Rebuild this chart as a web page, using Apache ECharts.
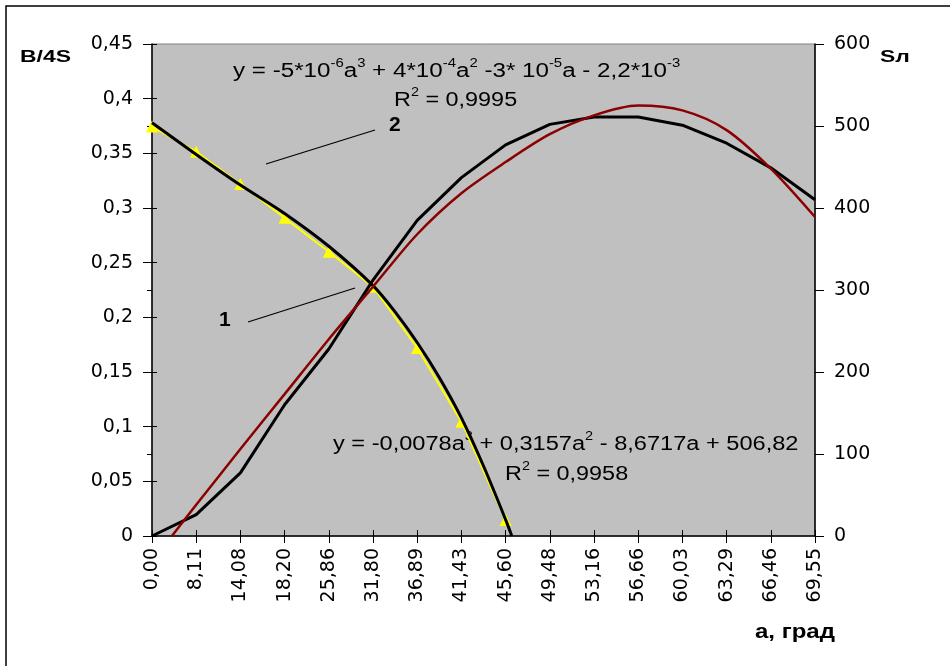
<!DOCTYPE html>
<html>
<head>
<meta charset="utf-8">
<script src="https://cdn.jsdelivr.net/npm/echarts@6/dist/echarts.min.js"></script>
<style>
html,body{margin:0;padding:0;background:#fff;}
#chart{width:950px;height:666px;}
</style>
</head>
<body>
<div id="chart"></div>
<script>
// Category tick labels (a, град)
var categories = ['0,00','8,11','14,08','18,20','25,86','31,80','36,89','41,43','45,60','49,48','53,16','56,66','60,03','63,29','66,46','69,55'];

// Curve 1: Sл (right axis), measured values at each category
var slValues = [0, 26, 77, 160, 228, 312, 385, 437, 477, 502, 511, 511, 501, 479, 449, 410];

// Trend of Sл (polynomial): [category position, value]
var slTrendX = [0.45, 1, 2, 3, 4, 5, 6, 7, 8, 9, 10, 11, 12, 13, 14, 15];
var slTrendY = [0, 38, 106, 173, 240, 304, 368, 418, 456, 490, 513, 525, 519, 495, 448, 389];

// Curve 2: B/4S measured points (left axis)
var bValues = [0.3745, 0.3515, 0.322, 0.291, 0.26, 0.228, 0.172, 0.1046, 0.0146];

// Trend of B/4S
var bTrendX = [0, 1, 2, 3, 4, 5, 5.5, 6, 6.5, 7, 7.5, 8, 8.14];
var bTrendY = [0.378, 0.349, 0.321, 0.295, 0.265, 0.229, 0.205, 0.177, 0.145, 0.108, 0.064, 0.015, 0];

function pairs(xs, ys){ return ys.map(function(v,i){ return [xs[i], v]; }); }
function idxPairs(ys){ return ys.map(function(v,i){ return [i, v]; }); }

var chart = echarts.init(document.getElementById('chart'), null, {renderer:'canvas'});
var FONT = 'Liberation Sans, Arial, sans-serif';
var AXFONT = 'DejaVu Sans, sans-serif';
var commaFmt = function(v){ return String(Math.round(v*100)/100).replace('.', ','); };

var eqRich = {
  a:{fontSize:19.5, fontFamily:FONT, color:'#000', lineHeight:24, verticalAlign:'bottom'},
  s:{fontSize:12, fontFamily:FONT, color:'#000', lineHeight:24, verticalAlign:'top'}
};
function eqText(left, top, text, sx){
  return {type:'text', left:left, top:top, scaleX:sx, style:{text:text, rich:eqRich}};
}

var option = {
  animation:false,
  backgroundColor:'#ffffff',
  textStyle:{fontFamily:FONT},
  grid:{left:152, right:135, top:44, bottom:130, show:true, backgroundColor:'#C0C0C0', borderColor:'#808080', borderWidth:1},
  xAxis:[
    {type:'value', min:0, max:15, interval:1, position:'bottom',
     axisLine:{show:true, onZero:false, lineStyle:{color:'#000', width:1.5}},
     axisTick:{show:true, inside:false, length:7, lineStyle:{color:'#000', width:1}},
     splitLine:{show:false},
     axisLabel:{rotate:90, margin:12, fontSize:19, color:'#000', fontFamily:AXFONT,
       formatter:function(v){ return categories[Math.round(v)] || ''; }}},
    {type:'value', min:0, max:15, interval:1, position:'bottom',
     axisLine:{show:false}, splitLine:{show:false}, axisLabel:{show:false},
     axisTick:{show:true, inside:true, length:6, lineStyle:{color:'#000', width:1}}}
  ],
  yAxis:[
    {type:'value', min:0, max:0.45, interval:0.05, position:'left',
     axisLine:{show:true, onZero:false, lineStyle:{color:'#000', width:1.5}},
     axisTick:{show:true, inside:false, length:9, lineStyle:{color:'#000', width:1}},
     splitLine:{show:false},
     axisLabel:{margin:19, fontSize:19, color:'#000', fontFamily:AXFONT, formatter:commaFmt}},
    {type:'value', min:0, max:600, interval:100, position:'right',
     axisLine:{show:true, onZero:false, lineStyle:{color:'#000', width:1.5}},
     axisTick:{show:true, inside:false, length:9, lineStyle:{color:'#000', width:1}},
     splitLine:{show:false},
     axisLabel:{margin:19, fontSize:19, color:'#000', fontFamily:AXFONT}},
    {type:'value', min:0, max:0.45, interval:0.05, position:'left',
     axisLine:{show:false}, splitLine:{show:false}, axisLabel:{show:false},
     axisTick:{show:true, inside:true, length:5, lineStyle:{color:'#000', width:1}}},
    {type:'value', min:0, max:600, interval:100, position:'right',
     axisLine:{show:false}, splitLine:{show:false}, axisLabel:{show:false},
     axisTick:{show:true, inside:true, length:5, lineStyle:{color:'#000', width:1}}}
  ],
  series:[
    {name:'B/4S data', type:'line', yAxisIndex:0, data:idxPairs(bValues),
     symbol:'triangle', symbolSize:12, showSymbol:true,
     itemStyle:{color:'#FFFF00'}, lineStyle:{color:'#FFFF00', width:2}, z:2},
    {name:'B/4S trend', type:'line', yAxisIndex:0, data:pairs(bTrendX, bTrendY),
     smooth:0.3, symbol:'none', lineStyle:{color:'#000', width:3}, z:3},
    {name:'Sл', type:'line', yAxisIndex:1, data:idxPairs(slValues),
     symbol:'none', lineStyle:{color:'#000', width:3}, z:3},
    {name:'Sл trend', type:'line', yAxisIndex:1, data:pairs(slTrendX, slTrendY),
     smooth:0.3, symbol:'none', lineStyle:{color:'#8B0000', width:2.5}, z:4}
  ],
  graphic:[
    {type:'rect', shape:{x:6, y:6, width:1000, height:700}, style:{fill:null, stroke:'#000', lineWidth:1.5}, silent:true},
    {type:'text', left:20, top:49, scaleX:1.35, style:{text:'B/4S', font:'bold 17px ' + FONT, fill:'#000'}},
    {type:'text', left:880, top:49, scaleX:1.35, style:{text:'Sл', font:'bold 17px ' + FONT, fill:'#000'}},
    {type:'text', left:755, top:622, scaleX:1.2, style:{text:'a, град', font:'bold 20px ' + FONT, fill:'#000'}},
    eqText(233, 58, '{a|y = -5*10}{s|-6}{a|a}{s|3}{a| + 4*10}{s|-4}{a|a}{s|2}{a| -3* 10}{s|-5}{a|a - 2,2*10}{s|-3}', 1.24),
    eqText(394, 87, '{a|R}{s|2}{a| = 0,9995}', 1.2),
    eqText(333, 431, '{a|y = -0,0078a}{s|3}{a| + 0,3157a}{s|2}{a| - 8,6717a + 506,82}', 1.21),
    eqText(505, 461, '{a|R}{s|2}{a| = 0,9958}', 1.2),
    {type:'text', left:389, top:115, style:{text:'2', font:'bold 21px ' + FONT, fill:'#000'}},
    {type:'text', left:219, top:310, style:{text:'1', font:'bold 21px ' + FONT, fill:'#000'}},
    {type:'line', shape:{x1:266, y1:164, x2:375, y2:130}, style:{stroke:'#000', lineWidth:1.3}},
    {type:'line', shape:{x1:248, y1:322, x2:355, y2:288}, style:{stroke:'#000', lineWidth:1.3}}
  ]
};
chart.setOption(option);
</script>
</body>
</html>
